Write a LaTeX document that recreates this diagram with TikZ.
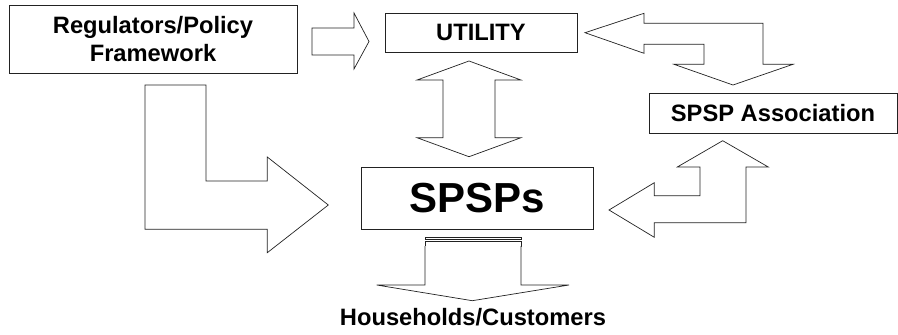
\documentclass[tikz,border=0pt]{standalone}
\usepackage{fontspec}
\setmainfont{Liberation Sans}
\usepackage{tikz}
\usepackage{xcolor}
\definecolor{LineGrey}{HTML}{222222}
\tikzset{
  box/.style={draw=LineGrey,line width=0.9pt,fill=white,align=center,inner sep=0pt,font=\bfseries\fontsize{23.7}{27.3}\selectfont},
  blockarrow/.style={draw=LineGrey,line width=0.7pt,fill=white,line join=miter}
}

\begin{document}
\begin{tikzpicture}[x=1pt,y=-1pt]
        \useasboundingbox (0,0) rectangle (898,335);
        \node[box,minimum width=288pt,minimum height=68pt] (regul) at (153,39) {Regulators/Policy\\Framework};
        \node[box,minimum width=192pt,minimum height=39pt] (utility) at (481,32.5) {UTILITY};
        \node[box,minimum width=248pt,minimum height=40pt] (assoc) at (773,113) {SPSP Association};
        \node[box,minimum width=232pt,minimum height=62pt,font=\bfseries\fontsize{42}{48}\selectfont] (spsps) at (477,198) {SPSPs};
        \node[font=\bfseries\fontsize{23.7}{27.3}\selectfont,anchor=base] (households) at (473,325.5) {Households/Customers};
        % regulators -> utility
        \draw[blockarrow] (312,28) -- (354,28) -- (354,13) -- (369,41.5) -- (354,69) -- (354,55) -- (312,55) -- cycle;
        % utility <-> association
        \draw[blockarrow] (585,32.7) -- (644,13.3) -- (644,23.3) -- (763,23.3) -- (763,64.3) -- (793,64.3) -- (733,85)
          -- (674,64.3) -- (704,64.3) -- (704,44.3) -- (644,44.3) -- (644,53.3) -- cycle;
        % utility <-> spsps
        \draw[blockarrow] (469,61) -- (521,80) -- (495,80) -- (495,137.7) -- (521,137.7) -- (469,156.7)
          -- (417,137.7) -- (443,137.7) -- (443,80) -- (417,80) -- cycle;
        % regulators -> spsps
        \draw[blockarrow] (145,85) -- (206,85) -- (206,181) -- (267.3,181) -- (267.3,157) -- (328.3,205)
          -- (267.3,252.7) -- (267.3,229.3) -- (145,229.3) -- cycle;
        % association <-> spsps
        \draw[blockarrow] (722.7,140.7) -- (768.3,167) -- (746,167) -- (746,222.7) -- (654.3,222.7) -- (654.3,237.3)
          -- (609,210) -- (654.3,182.7) -- (654.3,195.7) -- (700,195.7) -- (700,167) -- (677.3,167) -- cycle;
        % spsps -> households (striped tail)
        \draw[blockarrow] (425,237) rectangle (521,239.7);
        \draw[blockarrow] (425,241.3) rectangle (521,246);
        \draw[blockarrow] (425,246) -- (425,285) -- (376.7,285) -- (472.3,300.7) -- (569,285) -- (521,285) -- (521,246);
      \end{tikzpicture}
\end{document}
